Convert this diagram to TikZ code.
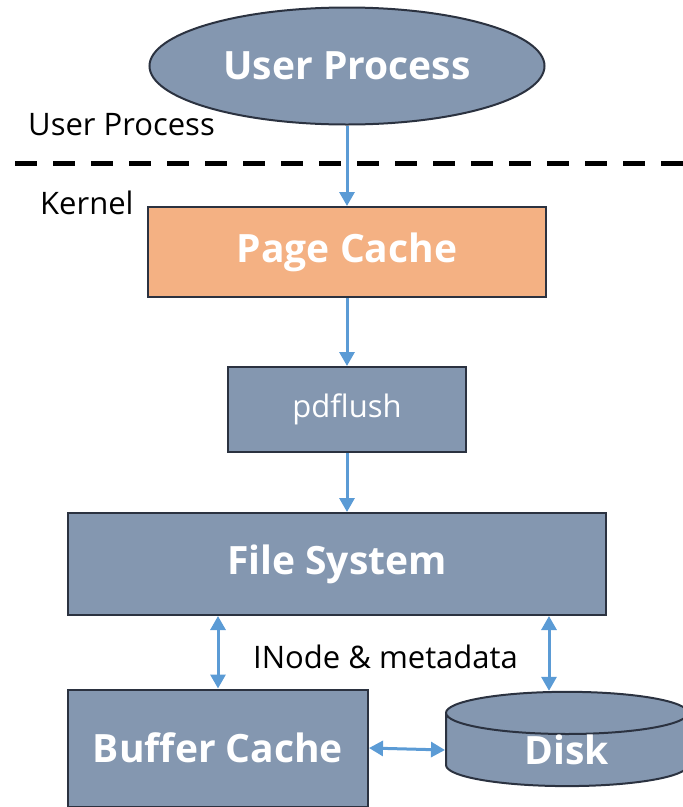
\documentclass[tikz,border=0pt]{standalone}
\usepackage{fontspec}
\setmainfont{Open Sans}
\usepackage{tikz}
\usetikzlibrary{positioning, shapes.geometric, arrows.meta}
\definecolor{boxfill}{HTML}{8497B0}
\definecolor{boxline}{HTML}{2B3240}
\definecolor{cachefill}{HTML}{F4B183}
\definecolor{diskend}{HTML}{B4C0D0}
\definecolor{flow}{HTML}{5B9BD5}

\begin{document}
\begin{tikzpicture}[x=1pt,y=-1pt,
   box/.style={draw=boxline,line width=2pt,fill=boxfill,text=white,inner sep=0pt,
      font=\fontsize{39}{44}\selectfont\bfseries},
   lbl/.style={inner sep=0pt,font=\fontsize{31}{36}\selectfont},
   tip/.tip={Triangle[width=15pt,length=14pt]},
   flowarrow/.style={draw=flow,line width=3pt,-tip},
   both/.style={draw=flow,line width=3pt,tip-tip}]
\useasboundingbox (0,0) rectangle (683,807);
\clip (0,0) rectangle (683,807);

% user space
\node[box,ellipse,minimum width=395pt,minimum height=117pt] (user) at (347,66) {User Process};
\node[lbl,anchor=west] (userlbl) at (28,125) {User Process};
\draw[line width=5pt,dash pattern=on 22pt off 16pt] (15,163) -- (690,163);
\node[lbl,anchor=west] (kernel) at (40,203) {Kernel};

% kernel side
\node[box,fill=cachefill,minimum width=398pt,minimum height=90pt] (cache) at (347,252) {Page Cache};
\node[box,font=\fontsize{31}{36}\selectfont,minimum width=238pt,minimum height=85pt] (pdflush) at (347,409.5) {pdflush};
\node[box,minimum width=538pt,minimum height=102pt] (fs) at (337,564) {File System};
\node[box,minimum width=300pt,minimum height=117pt] (buffer) at (218,748) {Buffer Cache};
\node[box,cylinder,shape border rotate=90,aspect=0.5,cylinder uses custom fill,
   cylinder body fill=boxfill,cylinder end fill=diskend,
   minimum width=242pt,minimum height=84pt] (disk) at (567,750) {Disk};
\node[lbl,anchor=west] (meta) at (253,657) {INode \& metadata};

% data path
\draw[flowarrow] (user.south) -- (cache.north);
\draw[flowarrow] (cache.south) -- (pdflush.north);
\draw[flowarrow] (pdflush.south) -- (pdflush.south |- fs.north);
\draw[both] (buffer.north |- fs.south) -- (buffer.north);
\draw[both] (buffer.east) -- (disk.west);
\coordinate (diskin) at ([xshift=-18pt]disk.north);
\draw[both] (diskin |- fs.south) -- (diskin);
\end{tikzpicture}
\end{document}
